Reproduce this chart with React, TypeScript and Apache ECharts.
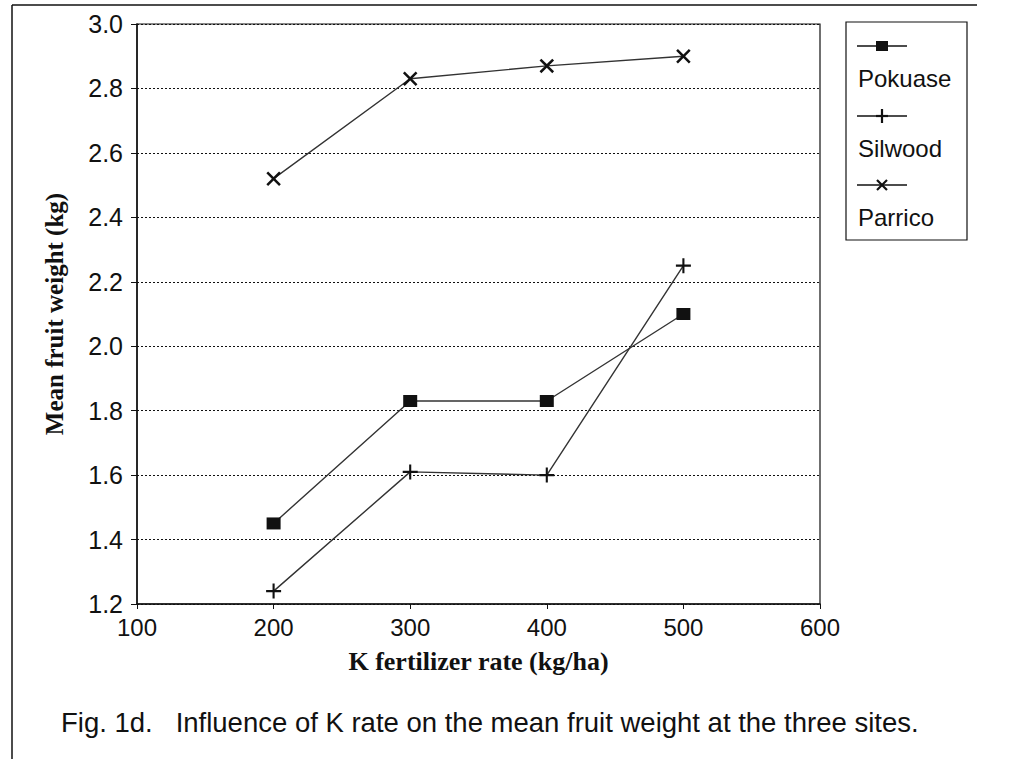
import React, { useEffect, useRef } from "react";
import * as echarts from "echarts";

const xValues = [200, 300, 400, 500];
const siteNames = ["Pokuase", "Silwood", "Parrico"];
const pokuase = [1.45, 1.83, 1.83, 2.1];
const silwood = [1.24, 1.61, 1.6, 2.25];
const parrico = [2.52, 2.83, 2.87, 2.9];
const seriesValues = [pokuase, silwood, parrico];

const xTitle = "K fertilizer rate (kg/ha)";
const yTitle = "Mean fruit weight (kg)";
const caption = "Fig. 1d.   Influence of K rate on the mean fruit weight at the three sites.";

const SANS = '"Liberation Sans", Arial, Helvetica, sans-serif';
const SERIF = '"Liberation Serif", "Times New Roman", serif';
const INK = "#111";
const LINE = "#333";

const PLUS = "path://M4.3,0h1.4v4.3h4.3v1.4h-4.3v4.3h-1.4v-4.3h-4.3v-1.4h4.3z";
const SQUARE = "rect";

const symbols = [
  { symbol: SQUARE, size: [14, 12], rotate: 0 },
  { symbol: PLUS, size: 15, rotate: 0 },
  { symbol: PLUS, size: 18, rotate: 45 },
];

function legendMarker(kind: number, cx: number, cy: number): any[] {
  const s = { stroke: INK, lineWidth: 2.2 };
  if (kind === 0) {
    return [{ type: "rect", shape: { x: cx - 6, y: cy - 5, width: 12, height: 10 }, style: { fill: INK } }];
  }
  if (kind === 1) {
    return [
      { type: "line", shape: { x1: cx, y1: cy - 7, x2: cx, y2: cy + 7 }, style: s },
      { type: "line", shape: { x1: cx - 6, y1: cy, x2: cx + 6, y2: cy }, style: s },
    ];
  }
  return [
    { type: "line", shape: { x1: cx - 5, y1: cy - 5, x2: cx + 5, y2: cy + 5 }, style: s },
    { type: "line", shape: { x1: cx - 5, y1: cy + 5, x2: cx + 5, y2: cy - 5 }, style: s },
  ];
}

export default function App() {
  const ref = useRef<HTMLDivElement>(null);
  useEffect(() => {
    if (!ref.current) return;
    const chart = echarts.init(ref.current, null, { renderer: "svg" });

    const legendGraphics: any[] = [
      {
        type: "rect",
        shape: { x: 846, y: 22, width: 121, height: 218 },
        style: { fill: "#fff", stroke: INK, lineWidth: 1.2 },
        z: 10,
      },
    ];
    const lineYs = [46, 116, 185];
    siteNames.forEach((name, i) => {
      const ly = lineYs[i];
      legendGraphics.push({
        type: "line",
        shape: { x1: 857, y1: ly, x2: 907, y2: ly },
        style: { stroke: INK, lineWidth: 1.3 },
        z: 11,
      });
      legendMarker(i, 882, ly).forEach((g) => legendGraphics.push({ ...g, z: 12 }));
      legendGraphics.push({
        type: "text",
        x: 858,
        y: ly + 32,
        style: { text: name, font: `24px ${SANS}`, fill: INK, textVerticalAlign: "middle" },
        z: 12,
      });
    });

    chart.setOption({
      animation: false,
      backgroundColor: "#fff",
      grid: {
        left: 137,
        right: 193,
        top: 24,
        bottom: 155,
        show: true,
        borderColor: INK,
        borderWidth: 1.2,
        backgroundColor: "transparent",
      },
      xAxis: {
        type: "value",
        min: 100,
        max: 600,
        interval: 100,
        name: xTitle,
        nameLocation: "middle",
        nameGap: 44,
        nameTextStyle: { fontFamily: SERIF, fontWeight: "bold", fontSize: 26, color: INK },
        axisLine: { show: true, onZero: false, lineStyle: { color: INK, width: 1.5 } },
        axisTick: { show: true, length: 5, lineStyle: { color: INK } },
        axisLabel: { fontFamily: SANS, fontSize: 24, color: INK, margin: 11 },
        splitLine: { show: false },
      },
      yAxis: {
        type: "value",
        min: 1.2,
        max: 3.0,
        interval: 0.2,
        name: yTitle,
        nameLocation: "middle",
        nameGap: 70,
        nameTextStyle: { fontFamily: SERIF, fontWeight: "bold", fontSize: 25, color: INK },
        axisLine: { show: true, onZero: false, lineStyle: { color: INK, width: 1.5 } },
        axisTick: { show: true, length: 6, lineStyle: { color: INK } },
        axisLabel: {
          fontFamily: SANS,
          fontSize: 25,
          color: INK,
          margin: 14,
          formatter: (v: number) => v.toFixed(1),
        },
        splitLine: { show: true, lineStyle: { color: INK, type: [2, 2], width: 1 } },
      },
      series: siteNames.map((name, i) => ({
        name,
        type: "line",
        data: xValues.map((x, j) => [x, seriesValues[i][j]]),
        symbol: symbols[i].symbol,
        symbolSize: symbols[i].size,
        symbolRotate: symbols[i].rotate,
        showSymbol: true,
        lineStyle: { color: LINE, width: 1.4 },
        itemStyle: { color: INK },
        z: 3,
      })),
      graphic: [
        { type: "line", shape: { x1: 12, y1: 5, x2: 12, y2: 759 }, style: { stroke: INK, lineWidth: 1.5 } },
        { type: "line", shape: { x1: 12, y1: 5, x2: 977, y2: 5 }, style: { stroke: INK, lineWidth: 1.5 } },
        ...legendGraphics,
        {
          type: "text",
          x: 61,
          y: 722,
          style: {
            text: caption,
            font: `27.5px ${SANS}`,
            fill: INK,
            textVerticalAlign: "middle",
          },
        },
      ],
    });
    return () => chart.dispose();
  }, []);
  return (
    <div
      ref={ref}
      style={{ position: "fixed", left: 0, top: 0, width: 1013, height: 759, background: "#fff" }}
    />
  );
}
